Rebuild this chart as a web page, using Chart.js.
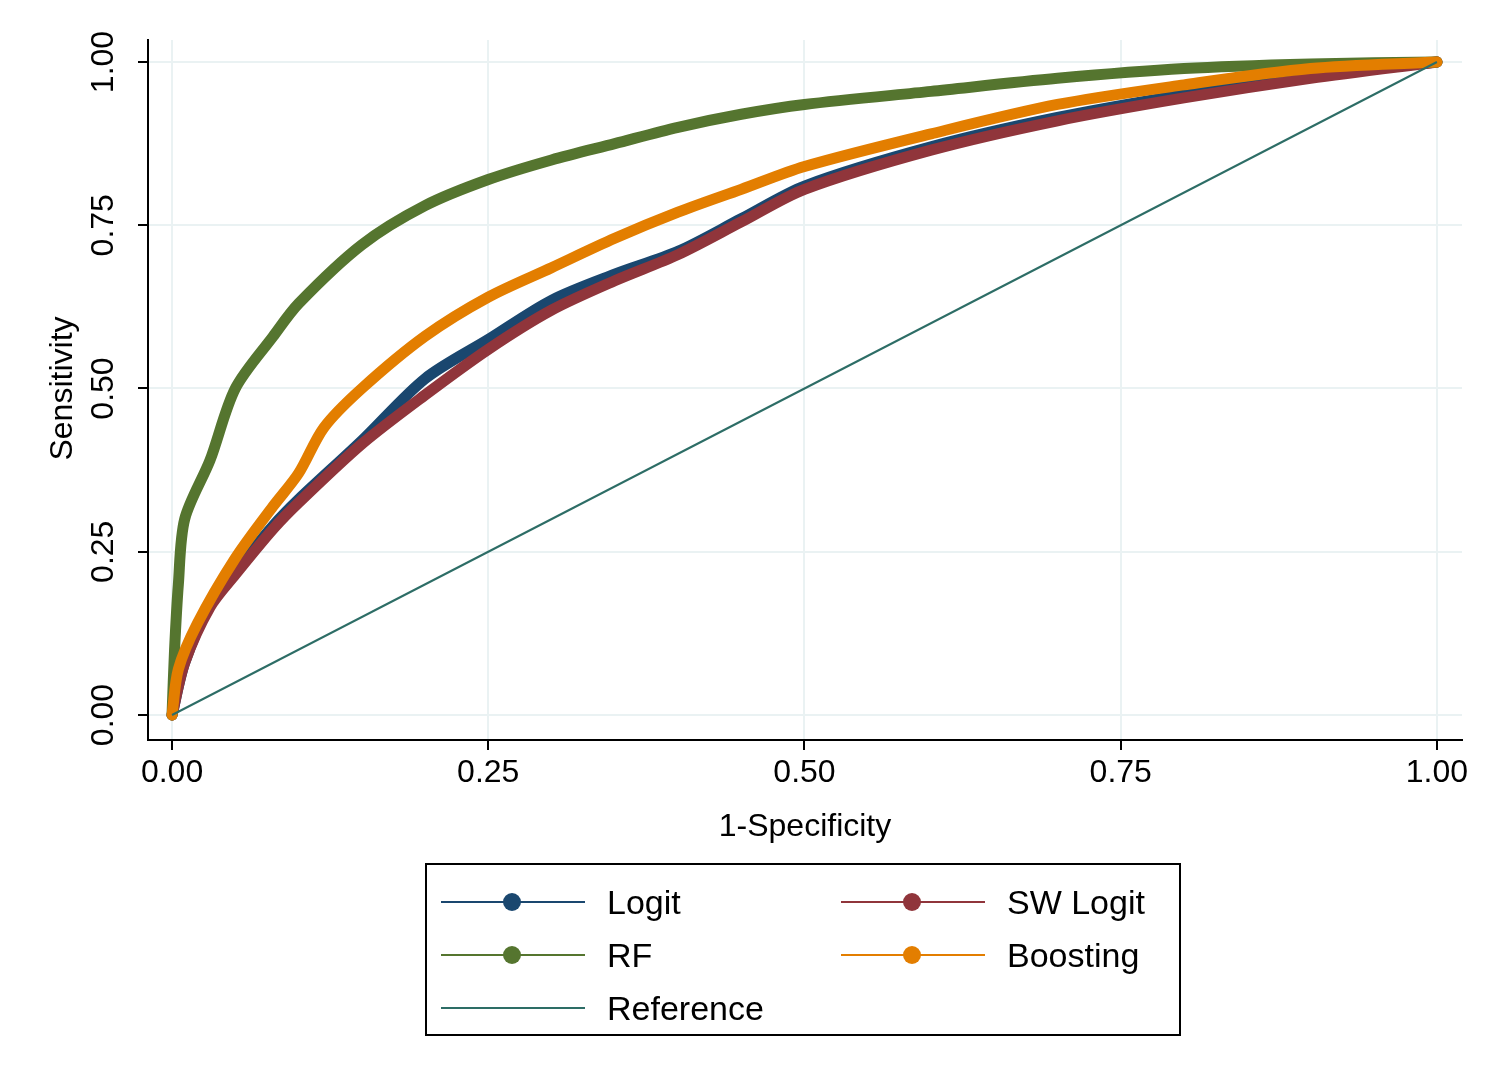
<!DOCTYPE html>
<html>
<head>
<meta charset="utf-8">
<script src="https://cdn.jsdelivr.net/npm/chart.js@4.4.1/dist/chart.umd.min.js"></script>
<style>
  html, body { margin: 0; padding: 0; background: #fff; }
  #wrap { position: relative; width: 1500px; height: 1091px; }
  #legend {
    position: absolute; left: 425px; top: 863px; width: 756px; height: 173px;
    border: 2px solid #000; box-sizing: border-box;
    font-family: 'Liberation Sans', Arial, sans-serif; font-size: 34px; color: #000;
  }
  .item { position: absolute; height: 40px; }
  .item .ln { position: absolute; left: 0; top: 19px; width: 144px; height: 2px; }
  .item .dot { position: absolute; left: 62px; top: 11px; width: 18px; height: 18px; border-radius: 50%; }
  .item .tx { position: absolute; left: 166px; top: 0; line-height: 40px; white-space: nowrap; }
</style>
</head>
<body>
<div id="wrap">
  <canvas id="c" width="1500" height="1091"></canvas>
  <div id="legend"></div>
</div>
<script>
// ROC points: [1-specificity, sensitivity]
const logitPts = [[0,0],[0.01,0.08],[0.03,0.17],[0.05,0.22],[0.08,0.29],[0.1,0.33],[0.15,0.42],[0.2,0.515],[0.25,0.575],[0.3,0.635],[0.35,0.675],[0.4,0.71],[0.45,0.76],[0.5,0.81],[0.6,0.87],[0.7,0.915],[0.8,0.95],[0.9,0.98],[1,1]];
const swLogitPts = [[0,0],[0.01,0.08],[0.03,0.165],[0.05,0.215],[0.08,0.285],[0.1,0.325],[0.15,0.415],[0.2,0.49],[0.25,0.56],[0.3,0.62],[0.35,0.665],[0.4,0.705],[0.45,0.755],[0.5,0.805],[0.6,0.865],[0.7,0.91],[0.8,0.945],[0.9,0.975],[1,1]];
const rfPts = [[0,0],[0.002,0.1],[0.005,0.2],[0.01,0.3],[0.03,0.39],[0.05,0.5],[0.08,0.58],[0.1,0.63],[0.15,0.72],[0.2,0.78],[0.25,0.82],[0.3,0.85],[0.35,0.875],[0.4,0.9],[0.45,0.92],[0.5,0.935],[0.6,0.955],[0.7,0.975],[0.8,0.99],[0.9,0.997],[1,1]];
const boostPts = [[0,0],[0.005,0.07],[0.02,0.14],[0.05,0.24],[0.08,0.32],[0.1,0.37],[0.12,0.44],[0.15,0.5],[0.2,0.58],[0.25,0.64],[0.3,0.685],[0.35,0.73],[0.4,0.77],[0.45,0.805],[0.5,0.84],[0.6,0.89],[0.7,0.935],[0.8,0.965],[0.9,0.99],[1,1]];
const refPts = [[0,0],[1,1]];
const tickVals = [0, 0.25, 0.5, 0.75, 1];
const tickLabels = ['0.00', '0.25', '0.50', '0.75', '1.00'];

const colors = { logit: '#1a476f', sw: '#90353b', rf: '#55752f', boost: '#e37e00', ref: '#2d6d66' };
const FONT = "'Liberation Sans', Arial, sans-serif";

const toXY = pts => pts.map(p => ({ x: p[0], y: p[1] }));
const curve = (label, pts, color) => ({
  label, data: toXY(pts), borderColor: color, backgroundColor: color,
  borderWidth: 11, pointRadius: 0, borderCapStyle: 'round', borderJoinStyle: 'round', tension: 0.3
});

const yLabels = {
  id: 'yLabels',
  afterDraw(chart) {
    const { ctx, scales: { y } } = chart;
    ctx.save();
    ctx.fillStyle = '#000';
    ctx.textAlign = 'center';
    ctx.textBaseline = 'middle';
    ctx.font = '32px ' + FONT;
    tickVals.forEach((v, i) => {
      ctx.save();
      ctx.translate(104, y.getPixelForValue(v));
      ctx.rotate(-Math.PI / 2);
      ctx.fillText(tickLabels[i], 0, 0);
      ctx.restore();
    });
    ctx.font = '32px ' + FONT;
    ctx.translate(63, y.getPixelForValue(0.5));
    ctx.rotate(-Math.PI / 2);
    ctx.fillText('Sensitivity', 0, 0);
    ctx.restore();
  }
};

new Chart(document.getElementById('c'), {
  type: 'line',
  data: {
    datasets: [
      curve('Logit', logitPts, colors.logit),
      curve('SW Logit', swLogitPts, colors.sw),
      curve('RF', rfPts, colors.rf),
      curve('Boosting', boostPts, colors.boost),
      { label: 'Reference', data: toXY(refPts), borderColor: colors.ref, borderWidth: 2, pointRadius: 0 }
    ].reverse()
  },
  options: {
    responsive: false, animation: false, devicePixelRatio: 1,
    layout: { padding: { left: 0, top: 40, right: 38, bottom: 241 } },
    plugins: { legend: { display: false }, tooltip: { enabled: false } },
    scales: {
      x: {
        type: 'linear', min: -0.019, max: 1.0198,
        afterBuildTicks: s => { s.ticks = tickVals.map(v => ({ value: v })); },
        afterFit: s => { s.height = 110; },
        grid: { color: '#eaf2f3', lineWidth: 2, tickColor: '#000', tickLength: 10 },
        border: { color: '#000', width: 2 },
        ticks: { color: '#000', font: { size: 32, family: FONT }, maxRotation: 0, padding: 4,
                 callback: v => tickLabels[tickVals.indexOf(v)] },
        title: { display: true, text: '1-Specificity', color: '#000', font: { size: 32, family: FONT }, padding: { top: 0 } }
      },
      y: {
        type: 'linear', min: -0.0383, max: 1.0337,
        afterBuildTicks: s => { s.ticks = tickVals.map(v => ({ value: v })); },
        afterFit: s => { s.width = 148; },
        grid: { color: '#eaf2f3', lineWidth: 2, tickColor: '#000', tickLength: 10 },
        border: { color: '#000', width: 2 },
        ticks: { display: true, color: 'rgba(0,0,0,0)', font: { size: 1 }, callback: () => '' }
      }
    }
  },
  plugins: [yLabels]
});

// legend
const items = [
  ['Logit', colors.logit, true, 14, 17], ['SW Logit', colors.sw, true, 414, 17],
  ['RF', colors.rf, true, 14, 70], ['Boosting', colors.boost, true, 414, 70],
  ['Reference', colors.ref, false, 14, 123]
];
const lg = document.getElementById('legend');
items.forEach(([t, c, dot, l, tp]) => {
  const d = document.createElement('div');
  d.className = 'item';
  d.style.left = l + 'px'; d.style.top = tp + 'px';
  d.innerHTML = '<div class="ln" style="background:' + c + '"></div>' +
    (dot ? '<div class="dot" style="background:' + c + '"></div>' : '') +
    '<div class="tx">' + t + '</div>';
  lg.appendChild(d);
});
</script>
</body>
</html>
